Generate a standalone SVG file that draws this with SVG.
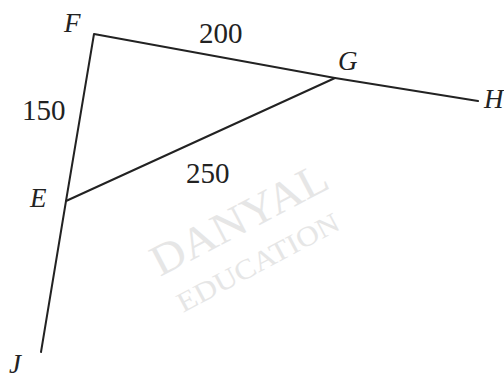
<svg xmlns="http://www.w3.org/2000/svg" width="504" height="378" viewBox="0 0 504 378">
<style>
.ln{stroke:#222;stroke-width:2;fill:none;stroke-linecap:round;stroke-linejoin:round}
.pt{font-family:"Liberation Serif","DejaVu Serif",serif;font-style:italic;font-size:27px;fill:#222}
.num{font-family:"Liberation Serif","DejaVu Serif",serif;font-size:29px;fill:#222}
.wm{font-family:"Liberation Serif","DejaVu Serif",serif;fill:#e6e6e6}
</style>
<rect width="504" height="378" fill="#fff"/>
<g id="watermark">
<text class="wm" font-size="44" transform="translate(160,277) rotate(-27.6)" textLength="194" lengthAdjust="spacingAndGlyphs">DANYAL</text>
<text class="wm" font-size="28" transform="translate(183,313) rotate(-28)" textLength="180" lengthAdjust="spacingAndGlyphs">EDUCATION</text>
</g>
<g id="connectors">
<polyline class="ln" points="478,101 335,78 94,34 66,201 41,352"/>
<line class="ln" x1="66" y1="201" x2="335" y2="78"/>
</g>
<g id="F"><text class="pt" x="64" y="32" font-size="31">F</text></g>
<g id="G"><text class="pt" x="338" y="70">G</text></g>
<g id="H"><text class="pt" x="484" y="108">H</text></g>
<g id="E"><text class="pt" x="30" y="207">E</text></g>
<g id="J"><text class="pt" x="9" y="373">J</text></g>
<g id="labels">
<text class="num" x="199" y="43">200</text>
<text class="num" x="22" y="120">150</text>
<text class="num" x="186" y="183">250</text>
</g>
</svg>
